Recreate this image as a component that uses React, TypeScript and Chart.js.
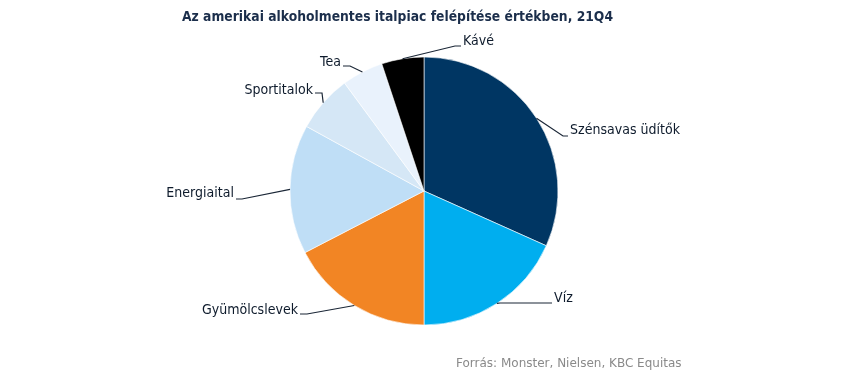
import React, { useEffect, useRef } from "react";
import { Chart, registerables } from "chart.js";

Chart.register(...registerables);

const TITLE = "Az amerikai alkoholmentes italpiac felépítése értékben, 21Q4";
const SOURCE = "Forrás: Monster, Nielsen, KBC Equitas";

const categories = [
  "Szénsavas üdítők",
  "Víz",
  "Gyümölcslevek",
  "Energiaital",
  "Sportitalok",
  "Tea",
  "Kávé",
];
const shares = [31.7, 18.3, 17.4, 15.6, 6.9, 5.0, 5.1];
const colors = ["#003663", "#00aeef", "#f28524", "#bfdef6", "#d5e7f6", "#e9f2fc", "#000000"];

// label layout relative to pie centre: elbow, line end, text anchor x, text middle y, alignment
const labelLayout = [
  { ex: 139, ey: -55, lx: 144, ly: -55, tx: 146, ty: -61, align: "left" },
  { ex: 76, ey: 112, lx: 128, ly: 112, tx: 130, ty: 107, align: "left" },
  { ex: -117, ey: 123, lx: -124, ly: 123, tx: -126, ty: 119, align: "right" },
  { ex: -182, ey: 8, lx: -188, ly: 8, tx: -190, ty: 2, align: "right" },
  { ex: -102, ey: -98, lx: -109, ly: -98, tx: -111, ty: -101, align: "right" },
  { ex: -74, ey: -125, lx: -81, ly: -125, tx: -83, ty: -129, align: "right" },
  { ex: 31, ey: -145, lx: 37, ly: -145, tx: 39, ty: -150, align: "left" },
];

const FONT = "'DejaVu Sans', sans-serif";

function drawScaled(ctx: any, text: string, x: number, y: number, align: string, sx: number) {
  ctx.save();
  ctx.translate(x, y);
  ctx.scale(sx, 1);
  ctx.textAlign = align;
  ctx.textBaseline = "middle";
  ctx.fillText(text, 0, 0);
  ctx.restore();
}

const labelPlugin = {
  id: "pieLabels",
  afterDraw(chart: any) {
    const ctx = chart.ctx;
    const meta = chart.getDatasetMeta(0);
    ctx.save();
    // title
    ctx.fillStyle = "#1b2e4b";
    ctx.font = `bold 14px ${FONT}`;
    const tw = ctx.measureText(TITLE).width;
    drawScaled(ctx, TITLE, 389.5, 9, "center", 431 / tw);
    // source
    ctx.fillStyle = "#8a8a8a";
    ctx.font = `12px ${FONT}`;
    ctx.textAlign = "left";
    ctx.textBaseline = "middle";
    ctx.fillText(SOURCE, 448, 356);

    ctx.font = `14px ${FONT}`;
    const lw = ctx.measureText(categories[0]).width;
    const lscale = 110 / lw;

    meta.data.forEach((arc: any, i: number) => {
      const p = arc.getProps(["x", "y", "startAngle", "endAngle", "outerRadius"], true);
      const mid = (p.startAngle + p.endAngle) / 2;
      const sx = p.x + Math.cos(mid) * p.outerRadius;
      const sy = p.y + Math.sin(mid) * p.outerRadius;
      const L = labelLayout[i];
      ctx.strokeStyle = "#1a2636";
      ctx.lineWidth = 1.2;
      ctx.beginPath();
      ctx.moveTo(sx, sy);
      ctx.lineTo(p.x + L.ex, p.y + L.ey);
      ctx.lineTo(p.x + L.lx, p.y + L.ly);
      ctx.stroke();
      ctx.fillStyle = "#0e1b2c";
      ctx.font = `14px ${FONT}`;
      drawScaled(ctx, categories[i], p.x + L.tx, p.y + L.ty, L.align, lscale);
    });
    ctx.restore();
  },
};

export default function App() {
  const ref = useRef<HTMLCanvasElement>(null);
  useEffect(() => {
    const chart = new Chart(ref.current!, {
      type: "pie",
      data: {
        labels: categories,
        datasets: [
          {
            data: shares,
            backgroundColor: colors,
            borderColor: "rgba(255,255,255,0.6)",
            borderWidth: 1,
          },
        ],
      },
      options: {
        animation: false,
        responsive: true,
        maintainAspectRatio: false,
        layout: { padding: { top: 48.5, bottom: 50.5, left: 281.5, right: 283.5 } },
        plugins: { legend: { display: false }, tooltip: { enabled: false } },
      },
      plugins: [labelPlugin],
    });
    return () => chart.destroy();
  }, []);
  return (
    <div style={{ width: 834, height: 368, position: "relative" }}>
      <canvas ref={ref} />
    </div>
  );
}
